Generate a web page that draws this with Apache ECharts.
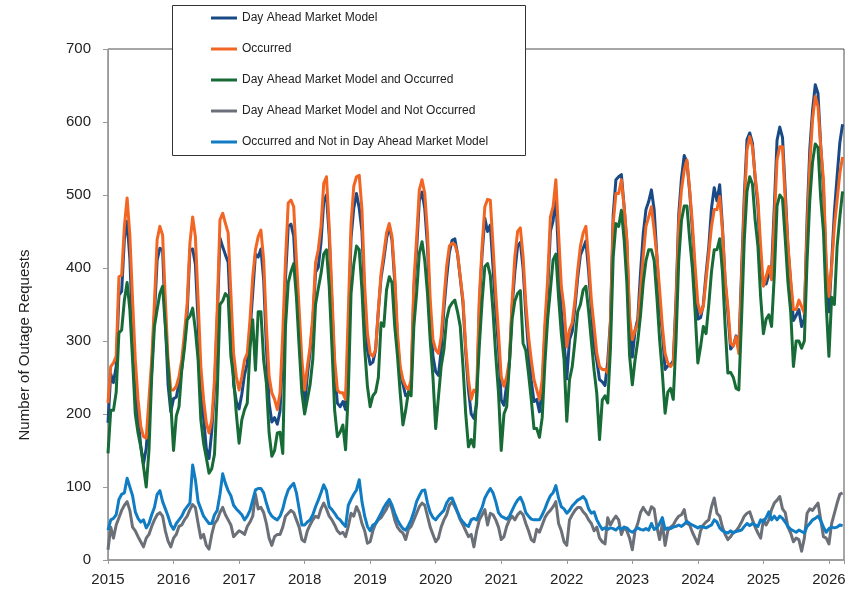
<!DOCTYPE html>
<html>
<head>
<meta charset="utf-8">
<script src="https://cdn.jsdelivr.net/npm/echarts/dist/echarts.min.js"></script>
<style>html,body{margin:0;padding:0;background:#fff}#chart{width:856px;height:595px}</style>
</head>
<body>
<div id="chart"></div>
<script>
// ---- Data (semi-monthly readings: 1st and 15th of each month, Jan 2015 - Mar 2026) ----
const startYear = 2015;
const periodsPerYear = 24;
const yearTicks = [2015, 2016, 2017, 2018, 2019, 2020, 2021, 2022, 2023, 2024, 2025, 2026];
const seriesNames = [
  'Day Ahead Market Model',
  'Occurred',
  'Day Ahead Market Model and Occurred',
  'Day Ahead Market Model and Not Occurred',
  'Occurred and Not in Day Ahead Market Model'
];

const damModel = [
  188,255,243,265,363,368,440,464,413,313,248,195,156,132,153,205,258,335,411,427,425,326,240,203,
  221,223,242,262,298,339,425,426,405,326,225,195,153,139,177,235,330,441,429,418,408,325,240,217,
  207,227,254,269,313,366,419,415,426,384,292,215,189,195,186,204,286,386,457,460,444,374,318,254,
  210,253,285,327,394,401,435,491,500,444,351,258,215,210,217,206,311,441,482,502,482,450,355,288,
  268,271,288,341,387,412,440,458,438,381,301,257,241,225,228,238,369,424,492,504,481,430,336,279,
  258,253,287,343,386,421,438,440,419,386,352,284,233,200,194,214,351,420,468,450,459,400,340,291,
  219,212,241,269,348,395,430,435,400,337,286,246,217,220,203,233,313,368,450,465,499,413,342,300,
  248,302,313,346,387,418,427,437,396,342,294,273,247,244,239,272,328,473,521,525,528,484,435,323,
  278,314,330,393,447,480,491,507,480,417,348,312,261,266,267,273,356,473,523,554,545,505,451,386,
  330,332,350,392,429,482,510,492,514,457,381,338,289,294,307,288,395,498,576,585,571,522,484,405,
  378,378,391,398,484,575,593,579,506,429,379,328,335,343,320,331,468,563,616,651,639,567,508,399,
  340,407,477,526,572,597
];

const occurred = [
  215,265,270,279,388,390,457,496,445,356,274,220,183,169,167,220,274,352,439,457,445,356,274,233,
  233,238,251,274,311,352,434,470,443,356,265,220,188,174,192,247,343,466,475,461,448,365,283,251,
  233,251,274,283,329,388,425,443,452,411,320,251,229,220,206,229,311,411,489,493,484,411,343,274,
  233,265,292,334,407,425,457,516,525,457,365,274,233,229,229,220,340,460,512,525,527,480,375,311,
  283,279,288,343,393,420,448,461,443,390,311,265,247,238,233,247,380,440,507,521,502,448,356,302,
  288,283,306,356,402,430,434,432,420,388,356,292,247,220,233,229,360,430,484,494,493,430,365,311,
  251,238,251,274,356,416,450,455,416,352,306,274,247,233,220,247,325,384,470,484,521,448,375,345,
  292,315,325,356,397,430,448,457,411,356,320,283,265,261,261,256,324,461,502,502,521,484,439,333,
  302,315,324,370,416,457,470,484,452,416,370,320,283,270,265,270,347,461,507,534,548,507,461,402,
  352,338,347,384,420,457,480,480,498,452,384,347,297,293,306,283,384,484,562,580,566,525,493,430,
  375,388,402,384,466,548,566,566,493,430,384,343,343,356,347,338,450,543,603,635,621,566,521,407,
  361,402,457,493,530,552
];

const damAndOccurred = [
  146,205,205,230,311,315,356,380,343,274,200,174,155,128,100,150,251,320,343,365,375,320,265,215,
  150,197,210,260,290,329,334,345,315,274,192,160,140,119,125,145,229,350,355,365,360,279,250,200,
  160,192,206,215,290,329,260,340,340,274,242,174,142,150,174,175,146,320,380,395,406,360,292,229,
  200,220,240,275,350,372,392,419,425,375,293,205,169,175,185,151,230,365,405,430,425,370,290,238,
  210,225,230,250,325,320,370,388,380,320,280,229,185,205,230,225,320,365,420,436,410,365,300,250,
  180,223,265,288,330,346,352,356,340,320,265,200,155,165,155,225,295,355,402,406,390,340,280,229,
  150,200,210,270,330,355,365,369,297,287,255,220,180,180,168,195,270,330,370,411,419,360,310,275,
  190,247,265,300,340,350,370,375,341,300,260,228,165,219,225,215,290,415,461,457,479,439,380,280,
  240,274,300,335,380,410,425,425,410,360,302,256,201,230,235,220,300,410,465,485,485,440,400,340,
  270,292,320,310,350,395,425,425,440,395,320,256,257,250,235,233,330,438,505,525,515,465,430,360,
  310,330,336,320,390,485,500,495,440,380,340,265,300,300,290,300,410,493,545,570,565,495,450,350,
  279,360,350,430,470,505
];

const damNotOccurred = [
  14,45,30,48,58,68,75,80,68,45,40,32,25,18,30,35,46,55,62,65,60,40,26,18,
  30,35,46,48,55,60,69,76,72,50,30,35,20,15,35,50,55,65,72,62,55,48,32,36,
  40,38,35,46,52,60,90,70,72,65,50,30,20,32,35,35,45,60,64,68,65,55,45,28,
  25,40,48,55,60,58,70,78,70,60,55,48,40,36,38,32,46,64,60,73,65,50,40,23,
  25,40,50,55,58,64,70,80,70,55,45,40,37,28,42,46,55,64,73,78,75,60,45,35,
  25,30,45,55,62,75,80,73,65,55,48,40,32,35,18,40,55,62,69,48,64,62,55,45,
  28,32,46,55,60,55,62,66,62,50,40,28,25,42,38,48,58,64,68,73,80,50,40,25,
  20,55,62,68,72,72,66,62,55,50,40,45,30,25,22,58,48,55,60,55,35,45,40,30,
  14,40,50,65,72,66,62,73,70,45,28,50,20,40,45,48,55,60,62,69,50,48,38,30,
  22,40,48,52,55,73,85,64,60,45,35,28,32,38,40,45,52,60,64,66,55,45,37,30,
  55,48,55,69,78,82,87,70,65,45,37,25,30,28,12,30,64,70,68,73,78,55,32,30,
  22,50,64,78,90,92
];

const occurredNotInDam = [
  41,55,57,62,83,90,92,112,100,88,66,57,52,55,44,50,62,72,90,95,80,70,60,48,
  42,50,55,60,68,73,78,130,110,80,70,60,55,50,50,62,68,90,118,105,95,88,75,70,
  66,62,55,60,68,82,96,98,98,92,78,66,60,57,55,60,70,85,96,101,105,92,70,48,
  48,52,55,62,73,82,92,103,95,73,69,64,58,55,50,46,75,83,90,96,110,80,60,46,
  40,48,50,57,64,72,78,83,75,64,55,48,43,41,47,55,66,80,88,95,96,78,65,58,
  55,60,64,68,78,84,85,76,66,57,52,48,46,55,57,55,64,72,85,92,98,92,80,65,
  60,58,56,60,68,76,82,86,78,65,60,56,55,55,55,62,70,80,88,92,102,85,73,70,
  64,68,74,78,82,84,87,82,70,64,66,55,48,42,44,42,44,43,41,45,42,45,44,40,
  38,41,44,42,41,43,41,50,42,44,50,58,42,44,43,45,46,48,46,49,53,50,48,46,
  44,46,45,44,46,48,55,52,44,40,38,37,40,37,39,40,41,46,50,47,50,48,46,55,
  52,58,66,55,60,55,60,57,52,46,42,40,38,41,39,37,46,50,55,57,60,54,45,38,
  43,45,44,45,48,47
];

// ---- Chart ----
const periods = damModel.length;
const timeAxis = [];
for (let k = 0; k < periods; k++) timeAxis.push(startYear + k / periodsPerYear);
const pairs = arr => arr.map((v, i) => [timeAxis[i], v]);

const colors = ['#1a4a86', '#f26522', '#176b36', '#6b7078', '#0f7cc4'];
const valueLists = [damModel, occurred, damAndOccurred, damNotOccurred, occurredNotInDam];
const FONT = 'Liberation Sans, Arial, sans-serif';

const chart = echarts.init(document.getElementById('chart'), null, {renderer: 'canvas'});
chart.setOption({
  animation: false,
  backgroundColor: '#ffffff',
  color: colors,
  grid: {
    left: 108, right: 12, top: 49, bottom: 35,
    show: true, borderColor: '#4d4d4d', borderWidth: 1,
    containLabel: false, outerBoundsMode: 'none'
  },
  xAxis: {
    type: 'value',
    min: yearTicks[0],
    max: 2026.23,
    interval: 1,
    axisLine: {show: true, onZero: false, lineStyle: {color: '#9a9a9a', width: 1.5}},
    axisTick: {show: true, length: 4, lineStyle: {color: '#9a9a9a'}},
    splitLine: {show: false},
    axisLabel: {
      margin: 12, fontSize: 15, color: '#222', fontFamily: FONT,
      showMaxLabel: true,
      formatter: v => (yearTicks.indexOf(Math.round(v)) >= 0 && Math.abs(v - Math.round(v)) < 1e-6) ? String(Math.round(v)) : ''
    }
  },
  yAxis: {
    type: 'value',
    min: 0, max: 700, interval: 100,
    axisLine: {show: true, lineStyle: {color: '#9a9a9a', width: 1}},
    axisTick: {show: true, length: 5, lineStyle: {color: '#9a9a9a'}},
    splitLine: {show: false},
    axisLabel: {margin: 17, fontSize: 15, color: '#222', fontFamily: FONT}
  },
  legend: {
    orient: 'vertical',
    left: 211, top: 11,
    padding: 0,
    itemGap: 17,
    itemWidth: 26, itemHeight: 3,
    icon: 'rect',
    selectedMode: false,
    z: 110,
    textStyle: {fontSize: 12, lineHeight: 14, color: '#222', fontFamily: FONT},
    data: seriesNames
  },
  graphic: [
    {
      type: 'rect', z: 100,
      shape: {x: 172.5, y: 5.5, width: 353, height: 150},
      style: {fill: '#ffffff', stroke: '#333333', lineWidth: 1}
    },
    {
      type: 'text', z: 100,
      x: 25, y: 345, rotation: Math.PI / 2,
      style: {
        text: 'Number of Outage Requests',
        fill: '#222', font: '15px ' + FONT,
        align: 'center', verticalAlign: 'middle'
      }
    }
  ],
  series: seriesNames.map((name, i) => ({
    name: name,
    type: 'line',
    data: pairs(valueLists[i]),
    showSymbol: false,
    symbol: 'none',
    smooth: false,
    lineStyle: {width: 3, color: colors[i], join: 'round'},
    itemStyle: {color: colors[i]},
    z: 2 + i
  }))
});
</script>
</body>
</html>
